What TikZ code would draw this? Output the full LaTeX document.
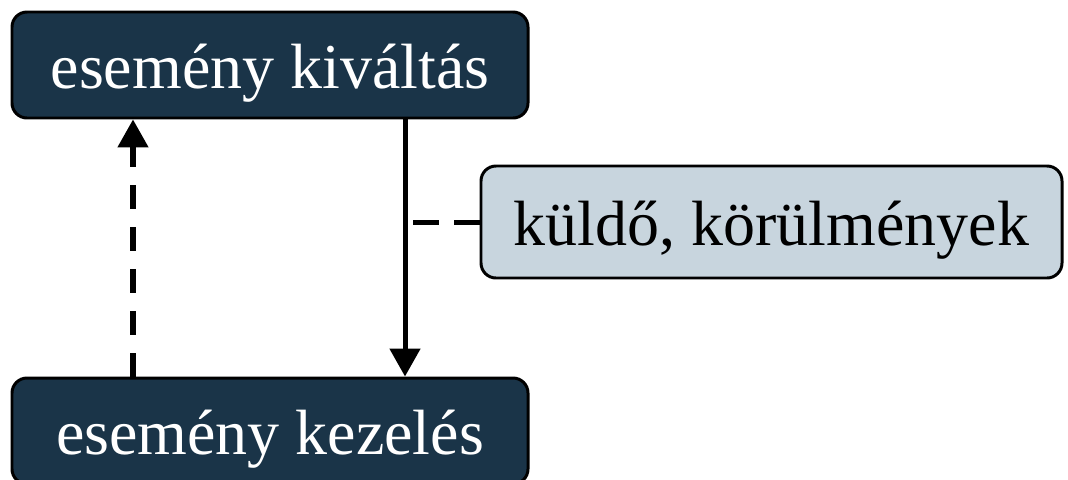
\documentclass[tikz,border=0pt]{standalone}
\usepackage{fontspec}
\setmainfont{Liberation Serif}
\usepackage{tikz}
\usetikzlibrary{positioning}
\usetikzlibrary{arrows.meta,shapes}
\usetikzlibrary{calc}
\definecolor{navy}{HTML}{1A3448}
\definecolor{paleblue}{HTML}{C8D5DE}
\tikzstyle{darkbox}=[rectangle,rounded corners=0.3cm,draw=black,line width=1.7pt,fill=navy,text=white,minimum width=10.32cm,minimum height=2.12cm,inner sep=0pt,text height=0.92cm,text depth=0cm,font=\fontsize{36.4}{40}\selectfont]
\tikzstyle{lightbox}=[rectangle,rounded corners=0.3cm,draw=black,line width=1.7pt,fill=paleblue,text=black,minimum width=11.62cm,minimum height=2.24cm,inner sep=0pt,text height=0.92cm,text depth=0cm,font=\fontsize{36.4}{40}\selectfont]
\tikzstyle{edge} = [draw,line width=2.85pt,-{Triangle[length=0.56cm,width=0.6cm]}]
\tikzstyle{dashededge} = [edge,dash pattern=on 0.48cm off 0.36cm]
\tikzstyle{note} = [draw,line width=2.85pt,dash pattern=on 0.52cm off 0.3cm]

\begin{document}
\begin{tikzpicture}[auto,swap]

    \useasboundingbox (0,0) rectangle (21.36,-9.58);

    \node[darkbox] (kivaltas) at (5.4,-1.3) {esemény kiváltás};
    \node[darkbox] (kezeles) at (5.4,-8.62) {esemény kezelés};
    \node[lightbox] (kuldo) at (15.43,-4.44) {küldő, körülmények};

    \path[edge] ([xshift=2.7cm]kivaltas.south) -- ([xshift=2.7cm]kezeles.north);
    \path[dashededge] ([xshift=-2.74cm]kezeles.north) -- ([xshift=-2.74cm]kivaltas.south);

    \coordinate (kapocs) at ([xshift=2.7cm]kivaltas.south |- kuldo.west);
    \path[note] (kuldo.west) -- (kapocs);

\end{tikzpicture}
\end{document}
